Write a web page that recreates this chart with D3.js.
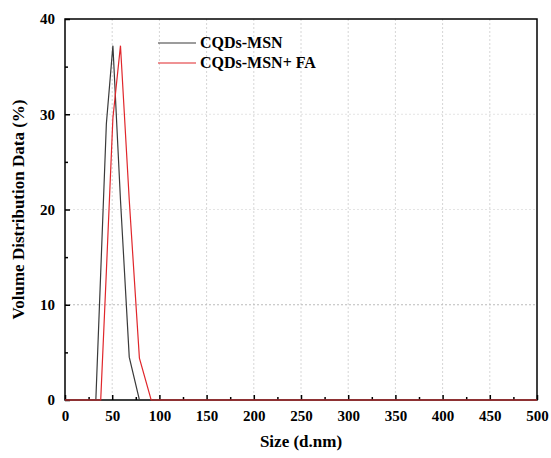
<html>
<head>
<meta charset="utf-8">
<script src="https://d3js.org/d3.v7.min.js"></script>
<style>
body { margin: 0; background: #fff; }
text { font-family: "Liberation Serif", "Times New Roman", serif; font-weight: bold; fill: #000; }
</style>
</head>
<body>
<svg id="chart" width="551" height="458"></svg>
<script>
// size bins (d.nm) and volume distribution (%)
const sizeBins = [0, 28.21, 32.67, 37.84, 43.82, 50.75, 58.77, 68.06, 78.82, 91.28, 105.7, 500];
const msnValues = [0, 0, 0, 13.4, 29, 37.2, 21, 4.5, 0, 0, 0, 0];
const msnFaValues = [0, 0, 0, 0, 13.5, 29.6, 37.2, 21, 4.4, 0, 0, 0];
const seriesNames = ["CQDs-MSN", "CQDs-MSN+ FA"];
const seriesColors = ["#3a3a3a", "#e0262b"];
const xTicks = [0, 50, 100, 150, 200, 250, 300, 350, 400, 450, 500];
const yTicks = [0, 10, 20, 30, 40];

const svg = d3.select("#chart");
const m = { left: 65, right: 537, top: 19, bottom: 400 };

const x = d3.scaleLinear().domain([0, 500]).range([m.left, m.right]);
const y = d3.scaleLinear().domain([0, 40]).range([m.bottom, m.top]);

// grid
svg.append("g").selectAll("line").data(xTicks.slice(1, -1)).enter().append("line")
    .attr("x1", d => x(d)).attr("x2", d => x(d))
    .attr("y1", m.top).attr("y2", m.bottom)
    .attr("stroke", "#d6d6d6").attr("stroke-width", 1).attr("stroke-dasharray", "2,2");
svg.append("g").selectAll("line").data(yTicks.slice(1, -1)).enter().append("line")
    .attr("x1", m.left).attr("x2", m.right)
    .attr("y1", d => y(d)).attr("y2", d => y(d))
    .attr("stroke", d => d === 10 ? "#bbbbbb" : "#e4e4e4").attr("stroke-width", 1).attr("stroke-dasharray", "2,2");

// axes
const xAxis = svg.append("g").attr("transform", `translate(0,${m.bottom})`)
    .call(d3.axisBottom(x).tickValues(d3.range(0, 501, 25)).tickSize(-5).tickPadding(10)
        .tickFormat(d => d % 50 === 0 ? d : ""));
xAxis.selectAll(".tick line").attr("y2", d => d % 50 === 0 ? -5 : -3);
const yAxis = svg.append("g").attr("transform", `translate(${m.left},0)`)
    .call(d3.axisLeft(y).tickValues(d3.range(0, 41, 5)).tickSize(-5).tickPadding(10)
        .tickFormat(d => d % 10 === 0 ? d : ""));
yAxis.selectAll(".tick line").attr("x2", d => d % 10 === 0 ? 5 : 3);
[xAxis, yAxis].forEach(a => {
    a.select(".domain").remove();
    a.selectAll(".tick line").attr("stroke", "#000").attr("stroke-width", 1.5);
    a.selectAll("text").style("font-size", "15px");
});

// frame
svg.append("rect").attr("x", m.left).attr("y", m.top)
    .attr("width", m.right - m.left).attr("height", m.bottom - m.top)
    .attr("fill", "none").attr("stroke", "#000").attr("stroke-width", 1.5);

// lines
const line = d3.line().x((d, i) => x(sizeBins[i])).y(d => y(d));
[msnValues, msnFaValues].forEach((vals, i) => {
    svg.append("path").datum(vals).attr("d", line)
        .attr("fill", "none").attr("stroke", seriesColors[i]).attr("stroke-width", 1.2);
});

// legend
seriesNames.forEach((name, i) => {
    const ly = 43 + i * 20;
    svg.append("line").attr("x1", 158).attr("x2", 196).attr("y1", ly).attr("y2", ly)
        .attr("stroke", seriesColors[i]).attr("stroke-width", 1.2);
    svg.append("text").attr("x", 200).attr("y", ly + 5).style("font-size", "16px").text(name);
});

// axis titles
svg.append("text").attr("x", (m.left + m.right) / 2).attr("y", 447)
    .attr("text-anchor", "middle").style("font-size", "17px").text("Size (d.nm)");
svg.append("text").attr("transform", `translate(24,${(m.top + m.bottom) / 2}) rotate(-90)`)
    .attr("text-anchor", "middle").style("font-size", "17px").text("Volume Distribution Data (%)");
</script>
</body>
</html>
